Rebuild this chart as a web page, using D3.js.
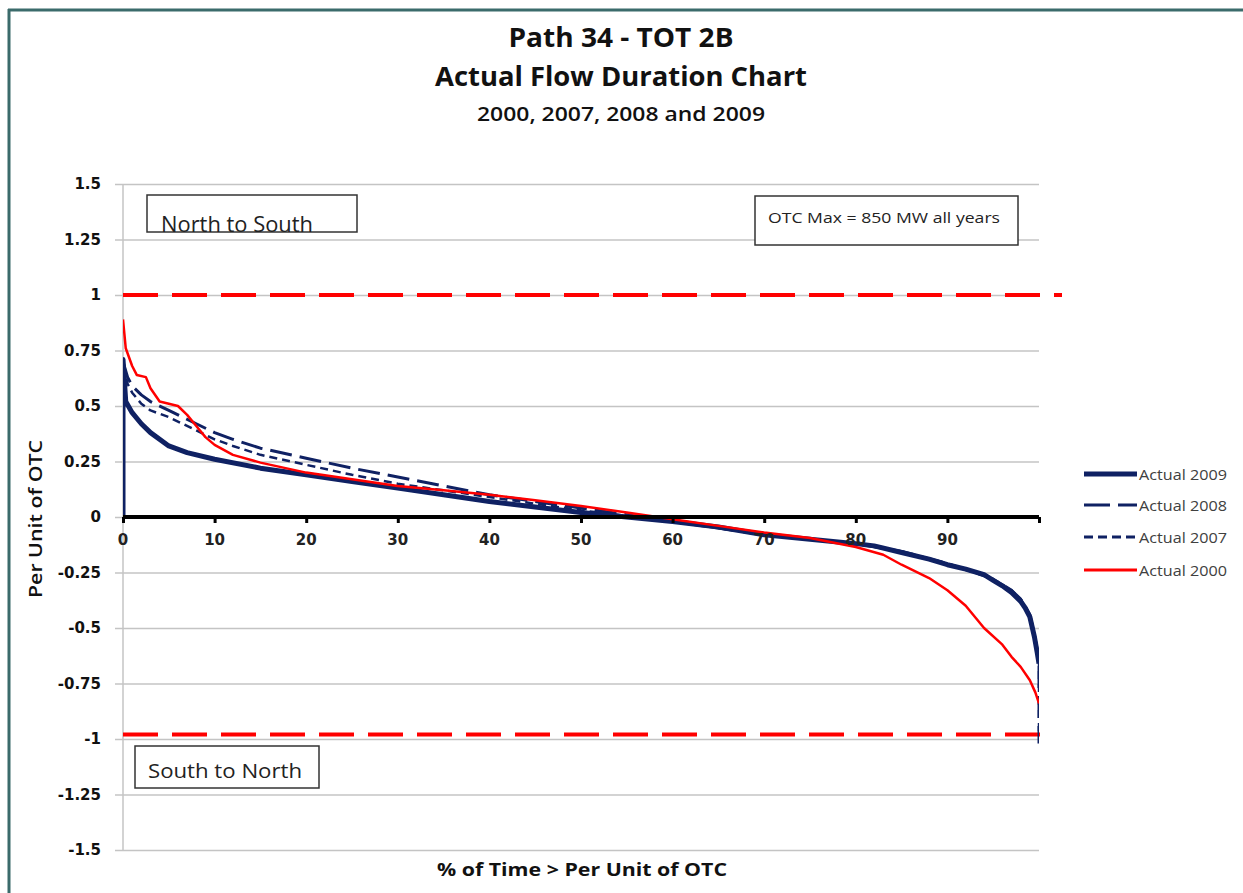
<!DOCTYPE html>
<html><head><meta charset="utf-8">
<script src="https://cdn.jsdelivr.net/npm/d3@7"></script>
<style>html,body{margin:0;padding:0;background:#fff;}svg{display:block;}</style>
</head><body>
<svg id="chart" width="1243" height="893"></svg>
<script>
// ---- data ----
const titleLines = ["Path 34 - TOT 2B", "Actual Flow Duration Chart", "2000, 2007, 2008 and 2009"];
const xTickValues = [0, 10, 20, 30, 40, 50, 60, 70, 80, 90, 100];
const xTickLabels = ["0", "10", "20", "30", "40", "50", "60", "70", "80", "90", ""];
const yTickValues = [1.5, 1.25, 1, 0.75, 0.5, 0.25, 0, -0.25, -0.5, -0.75, -1, -1.25, -1.5];
const yTickLabels = ["1.5", "1.25", "1", "0.75", "0.5", "0.25", "0", "-0.25", "-0.5", "-0.75", "-1", "-1.25", "-1.5"];
const seriesNames = ["Actual 2009", "Actual 2008", "Actual 2007", "Actual 2000"];

const x2009 = [0, 0, 0.3, 1, 2, 3, 5, 7, 10, 15, 20, 25, 30, 35, 40, 45, 50, 55, 60, 65, 70, 75, 80, 82, 85, 88, 90, 92, 94, 95, 96, 97, 98, 98.5, 99, 99.5, 99.8, 100];
const y2009 = [0, 0.71, 0.52, 0.47, 0.42, 0.38, 0.32, 0.29, 0.26, 0.22, 0.19, 0.16, 0.13, 0.10, 0.07, 0.045, 0.02, 0.0, -0.02, -0.045, -0.08, -0.10, -0.12, -0.13, -0.16, -0.19, -0.215, -0.235, -0.26, -0.285, -0.31, -0.34, -0.38, -0.41, -0.45, -0.54, -0.61, -0.66];

const x2008 = [0, 0.5, 1, 2, 3, 5, 8, 10, 12, 15, 20, 25, 30, 35, 40, 45, 50, 55, 60, 65, 70, 75, 80, 85, 90, 93, 95, 97, 98, 99, 99.5, 100, 100];
const y2008 = [0.70, 0.63, 0.59, 0.55, 0.52, 0.48, 0.42, 0.38, 0.35, 0.31, 0.265, 0.22, 0.18, 0.14, 0.10, 0.07, 0.04, 0.01, -0.02, -0.05, -0.08, -0.10, -0.12, -0.155, -0.21, -0.25, -0.28, -0.33, -0.37, -0.44, -0.53, -0.64, -1.02];

const x2007 = [0, 0.5, 1, 2, 3, 5, 8, 10, 12, 15, 20, 25, 30, 35, 40, 45, 50, 55, 60, 65, 70, 75, 80, 85, 90, 93, 95, 97, 98, 99, 99.5, 100, 100];
const y2007 = [0.68, 0.60, 0.56, 0.51, 0.48, 0.45, 0.39, 0.35, 0.32, 0.28, 0.235, 0.19, 0.15, 0.12, 0.09, 0.06, 0.03, 0.005, -0.02, -0.05, -0.08, -0.10, -0.12, -0.155, -0.21, -0.25, -0.28, -0.33, -0.37, -0.44, -0.53, -0.64, -0.98];

const x2000 = [0, 0.3, 1, 1.5, 2.5, 3, 4, 5, 6, 7, 8, 9, 10, 12, 15, 20, 25, 30, 35, 40, 45, 50, 55, 60, 65, 70, 75, 80, 83, 85, 88, 90, 92, 94, 96, 97, 98, 99, 99.6, 100];
const y2000 = [0.89, 0.76, 0.68, 0.64, 0.63, 0.58, 0.52, 0.51, 0.50, 0.46, 0.41, 0.36, 0.325, 0.28, 0.245, 0.20, 0.17, 0.14, 0.12, 0.10, 0.075, 0.05, 0.02, -0.01, -0.04, -0.07, -0.095, -0.135, -0.17, -0.215, -0.275, -0.33, -0.40, -0.50, -0.575, -0.63, -0.675, -0.735, -0.79, -0.84];

const limitValues = [1.0, -0.98];   // OTC limit lines (per unit)
const boxTexts = ["North to South", "OTC Max = 850 MW all years", "South to North"];
const xAxisTitle = "% of Time > Per Unit of OTC";
const yAxisTitle = "Per Unit of OTC";

// ---- drawing ----
const svg = d3.select("#chart");
const navy = "#0f2163", red = "#ff0000";
const x = d3.scaleLinear().domain([0, 100]).range([123, 1039]);
const y = d3.scaleLinear().domain([-1.5, 1.5]).range([850, 184]);

// frame
svg.append("line").attr("x1", 8).attr("x2", 1243).attr("y1", 10).attr("y2", 10).attr("stroke", "#3b6b6b").attr("stroke-width", 3);
svg.append("line").attr("x1", 9).attr("x2", 9).attr("y1", 9).attr("y2", 893).attr("stroke", "#3b6b6b").attr("stroke-width", 3);

// title
const titleSpec = [{y: 47, size: 26, len: 225}, {y: 86, size: 26, len: 372}, {y: 121, size: 19, len: 288}];
titleLines.forEach((t, i) => {
  svg.append("text").attr("x", 621).attr("y", titleSpec[i].y).attr("text-anchor", "middle")
    .attr("font-family", "Open Sans, sans-serif").attr("font-weight", i === 2 ? 600 : "bold")
    .attr("font-size", titleSpec[i].size).attr("fill", "#111")
    .attr("textLength", titleSpec[i].len).attr("lengthAdjust", "spacingAndGlyphs").text(t);
});

// gridlines
const yAxis = d3.axisLeft(y).tickValues(yTickValues).tickSize(-(1039 - 123)).tickFormat("");
const gy = svg.append("g").attr("transform", "translate(123,0)").call(yAxis);
gy.select(".domain").remove();
gy.selectAll(".tick line").attr("stroke", "#c4c4c4").attr("stroke-width", 1.5).attr("x1", -8);
// y axis line
svg.append("line").attr("x1", 123).attr("x2", 123).attr("y1", y(1.5)).attr("y2", y(-1.5)).attr("stroke", "#c4c4c4").attr("stroke-width", 1.5);
// y tick labels
yTickValues.forEach((v, i) => {
  svg.append("text").attr("x", 101).attr("y", y(v) + 5).attr("text-anchor", "end")
    .attr("font-family", "DejaVu Sans, sans-serif").attr("font-weight", "bold").attr("font-size", 15)
    .attr("fill", "#111").text(yTickLabels[i]);
});

// clip for series
svg.append("clipPath").attr("id", "plotclip").append("rect")
  .attr("x", 123).attr("y", 184).attr("width", 1039 - 123).attr("height", 850 - 184);

// limit lines
svg.append("line").attr("x1", x(0)).attr("x2", 1062).attr("y1", y(limitValues[0])).attr("y2", y(limitValues[0]))
  .attr("stroke", red).attr("stroke-width", 4).attr("stroke-dasharray", "35,14");
svg.append("line").attr("x1", x(0)).attr("x2", 1047).attr("y1", y(limitValues[1])).attr("y2", y(limitValues[1]))
  .attr("stroke", red).attr("stroke-width", 4).attr("stroke-dasharray", "35,14");

// series
const line = d3.line().x(d => x(d[0])).y(d => y(d[1]));
const zip = (a, b) => a.map((v, i) => [v, b[i]]);
const series = [
  {name: seriesNames[1], data: zip(x2008, y2008), color: navy, w: 3, dash: "22,8"},
  {name: seriesNames[2], data: zip(x2007, y2007), color: navy, w: 2.5, dash: "8,5"},
  {name: seriesNames[0], data: zip(x2009, y2009), color: navy, w: 5, dash: null},
  {name: seriesNames[3], data: zip(x2000, y2000), color: red, w: 2.5, dash: null}
];
const gs = svg.append("g").attr("clip-path", "url(#plotclip)");
series.forEach(s => {
  gs.append("path").attr("d", line(s.data)).attr("fill", "none").attr("stroke", s.color)
    .attr("stroke-width", s.w).attr("stroke-linejoin", "round")
    .attr("stroke-dasharray", s.dash);
});

// zero axis line with ticks
const xAxis = d3.axisBottom(x).tickValues(xTickValues).tickSize(6).tickFormat("");
const gx = svg.append("g").attr("transform", `translate(0,${y(0)})`).call(xAxis);
gx.select(".domain").attr("stroke", "#000").attr("stroke-width", 4).attr("d", `M${x(0)},0H${x(100)}`);
gx.selectAll(".tick line").attr("stroke", "#000").attr("stroke-width", 3);
xTickValues.forEach((v, i) => {
  svg.append("text").attr("x", x(v)).attr("y", y(0) + 28).attr("text-anchor", "middle")
    .attr("font-family", "DejaVu Sans, sans-serif").attr("font-weight", "bold").attr("font-size", 15)
    .attr("fill", "#222").text(xTickLabels[i]);
});

// annotation boxes
function box(x0, y0, w, h, tx, ty, size, len, t) {
  svg.append("rect").attr("x", x0).attr("y", y0).attr("width", w).attr("height", h)
    .attr("fill", "#fff").attr("stroke", "#333").attr("stroke-width", 1.5);
  const cid = "c" + Math.round(x0) + Math.round(y0);
  svg.append("clipPath").attr("id", cid).append("rect").attr("x", x0).attr("y", y0).attr("width", w).attr("height", h);
  svg.append("text").attr("x", tx).attr("y", ty).attr("font-family", "Open Sans, sans-serif")
    .attr("font-size", size).attr("fill", "#222").attr("clip-path", `url(#${cid})`)
    .attr("textLength", len).attr("lengthAdjust", "spacingAndGlyphs").text(t);
}
box(147, 195, 210, 37, 161, 232, 21, 152, boxTexts[0]);
box(755, 196, 263, 49, 768, 223, 15, 232, boxTexts[1]);
box(135, 746, 184, 42, 148, 778, 20, 154, boxTexts[2]);

// axis titles
svg.append("text").attr("x", 582).attr("y", 876).attr("text-anchor", "middle")
  .attr("font-family", "Open Sans, sans-serif").attr("font-weight", "bold").attr("font-size", 18)
  .attr("fill", "#111").attr("textLength", 290).attr("lengthAdjust", "spacingAndGlyphs").text(xAxisTitle);
svg.append("text").attr("transform", "translate(42,519) rotate(-90)").attr("text-anchor", "middle")
  .attr("font-family", "Open Sans, sans-serif").attr("font-weight", 600).attr("font-size", 18)
  .attr("fill", "#111").attr("textLength", 158).attr("lengthAdjust", "spacingAndGlyphs").text(yAxisTitle);

// legend
const legY = [474, 505, 537, 570];
const legSpec = [
  {color: navy, w: 5, dash: null},
  {color: navy, w: 3, dash: "26,8"},
  {color: navy, w: 3, dash: "9,5"},
  {color: red, w: 3, dash: null}
];
seriesNames.forEach((n, i) => {
  svg.append("line").attr("x1", 1084).attr("x2", 1137).attr("y1", legY[i]).attr("y2", legY[i])
    .attr("stroke", legSpec[i].color).attr("stroke-width", legSpec[i].w).attr("stroke-dasharray", legSpec[i].dash);
  svg.append("text").attr("x", 1139).attr("y", legY[i] + 6).attr("font-family", "Open Sans, sans-serif")
    .attr("font-size", 15).attr("fill", "#404040").attr("textLength", 88).attr("lengthAdjust", "spacingAndGlyphs").text(n);
});
</script>
</body></html>
